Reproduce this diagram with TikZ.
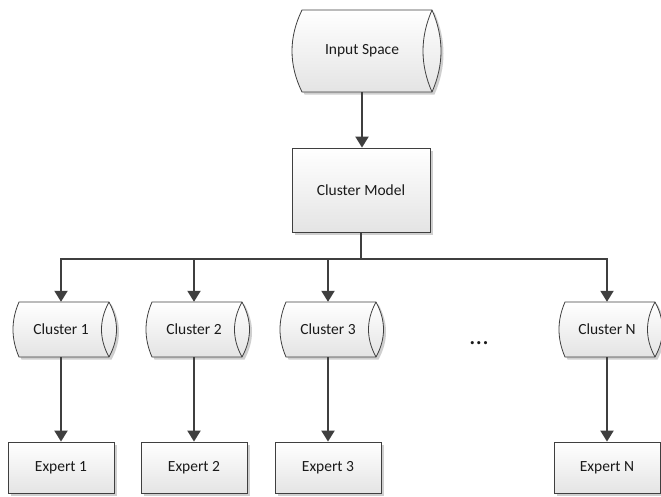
\documentclass[tikz,border=0pt]{standalone}
\usepackage{fontspec}
\setmainfont{Carlito}
\usetikzlibrary{arrows.meta,calc,shadows}
\pgfdeclarelayer{bg}
\pgfsetlayers{bg,main}
\definecolor{linec}{HTML}{3F3F3F}
\definecolor{shadowc}{HTML}{CFCFCF}
\definecolor{txtc}{HTML}{1A1A1A}
\definecolor{fillbot}{HTML}{E4E4E4}
\tikzset{
  lbl/.style={font=\fontsize{15.5}{18}\selectfont, text=txtc, inner sep=0pt},
  boxnode/.style={lbl, draw=linec, line width=0.8pt, top color=white, bottom color=fillbot,
    drop shadow={shadow xshift=2.5pt, shadow yshift=-2.5pt, fill=shadowc, opacity=1}},
  cylnode/.style={lbl},
  shapeline/.style={draw=linec, line width=0.8pt},
  conn/.style={draw=linec, line width=2pt, -{Triangle[length=11pt,width=13pt]}},
}
% #1 opts, #2 name, #3 L, #4 R, #5 half height, #6 left bulge, #7 ellipse half width
\newcommand\cylbody[7]{%
  \path[#1] ($(#2.center)+(#3,-#5)$) -- ($(#2.center)+(#4,-#5)$)
    .. controls ($(#2.center)+({#4+4/3*#7},{-#5/3})$) and ($(#2.center)+({#4+4/3*#7},{#5/3})$) .. ($(#2.center)+(#4,#5)$)
    -- ($(#2.center)+(#3,#5)$)
    .. controls ($(#2.center)+({#3-4/3*#6},{#5/3})$) and ($(#2.center)+({#3-4/3*#6},{-#5/3})$) .. ($(#2.center)+(#3,-#5)$) -- cycle;}
\newcommand\cylinner[6]{%
  \draw[shapeline] ($(#1.center)+(#3,-#4)$)
    .. controls ($(#1.center)+({#3-4/3*#6},{-#4/3})$) and ($(#1.center)+({#3-4/3*#6},{#4/3})$) .. ($(#1.center)+(#3,#4)$);}
\newcommand\drawcyl[6]{%
  \begin{pgfonlayer}{bg}
  \cylbody{fill=shadowc, transform canvas={shift={(2.5pt,-2.5pt)}}}{#1}{#2}{#3}{#4}{#5}{#6}
  \cylbody{top color=white, bottom color=fillbot, shapeline}{#1}{#2}{#3}{#4}{#5}{#6}
  \cylinner{#1}{#2}{#3}{#4}{#5}{#6}
  \end{pgfonlayer}}
\begin{document}
\begin{tikzpicture}[x=1pt, y=-1pt]
\useasboundingbox (0,0) rectangle (661,496);
% input space
\node[cylnode, minimum height=82pt] (is) at (362,51) {Input Space};
\drawcyl{is}{-60}{70}{41}{10}{9}
% cluster model
\node[boxnode, minimum width=138pt, minimum height=84pt] (cm) at (361,190) {Cluster Model};
\coordinate (bus) at ($(cm.south)+(0,27)$);
% clusters
\node[cylnode, minimum height=55pt] (c1) at (61,329.5) {Cluster 1};
\node[cylnode, minimum height=55pt] (c2) at (194,329.5) {Cluster 2};
\node[cylnode, minimum height=55pt] (c3) at (328,329.5) {Cluster 3};
\node[cylnode, minimum height=55pt] (cN) at (607,329.5) {Cluster N};
\drawcyl{c1}{-42}{48}{27.5}{6}{7.5}
\drawcyl{c2}{-42}{48}{27.5}{6}{7.5}
\drawcyl{c3}{-42}{48}{27.5}{6}{7.5}
\drawcyl{cN}{-42}{48}{27.5}{6}{7.5}
\node[font=\fontsize{26}{30}\selectfont, text=txtc, inner sep=0pt, anchor=base] (dots) at (479,344) {...};
% experts
\node[boxnode, minimum width=106pt, minimum height=51pt] (e1) at (61,467.5) {Expert 1};
\node[boxnode, minimum width=106pt, minimum height=51pt] (e2) at (194,467.5) {Expert 2};
\node[boxnode, minimum width=106pt, minimum height=51pt] (e3) at (328,467.5) {Expert 3};
\node[boxnode, minimum width=106pt, minimum height=51pt] (eN) at (607,467.5) {Expert N};
% connectors
\draw[conn] (is.south) -- (is.south |- cm.north);
\draw[conn] (cm.south) -- (bus) -| (c1.north);
\draw[conn] (cm.south) -- (bus) -| (c2.north);
\draw[conn] (cm.south) -- (bus) -| (c3.north);
\draw[conn] (cm.south) -- (bus) -| (cN.north);
\draw[conn] (c1.south) -- (c1.south |- e1.north);
\draw[conn] (c2.south) -- (c2.south |- e2.north);
\draw[conn] (c3.south) -- (c3.south |- e3.north);
\draw[conn] (cN.south) -- (cN.south |- eN.north);
\end{tikzpicture}
\end{document}
